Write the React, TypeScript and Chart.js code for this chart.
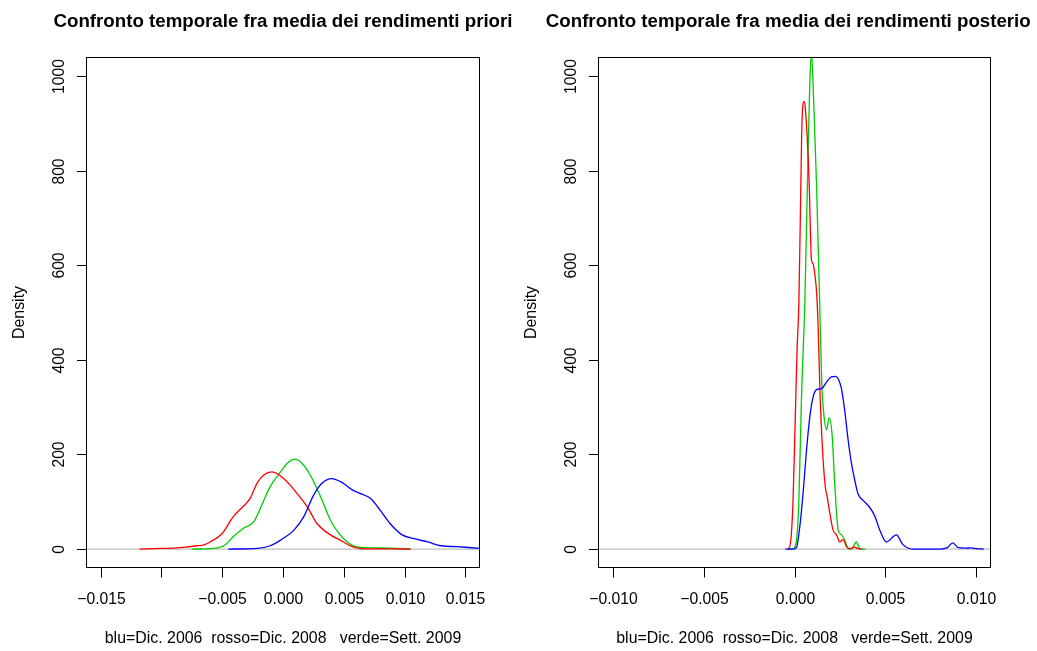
import React, { useEffect, useRef } from "react";
import { Chart, registerables } from "chart.js";

Chart.register(...registerables);

const FONT = '"Liberation Sans", Arial, Helvetica, sans-serif';

// ---------- Titles and labels ----------
const priorTitle = "Confronto temporale fra media dei rendimenti priori";
const posteriorTitle = "Confronto temporale fra media dei rendimenti posteriori";
const xAxisTitle = "blu=Dic. 2006  rosso=Dic. 2008   verde=Sett. 2009";
const yAxisTitle = "Density";

// ---------- Axis ticks ----------
const yTicks = [0, 200, 400, 600, 800, 1000];
const yTickLabels = ["0", "200", "400", "600", "800", "1000"];
const priorXTicks = [-0.015, -0.01, -0.005, 0, 0.005, 0.01, 0.015];
const priorXTickLabels = ["\u22120.015", "", "\u22120.005", "0.000", "0.005", "0.010", "0.015"];
const posteriorXTicks = [-0.01, -0.005, 0, 0.005, 0.01];
const posteriorXTickLabels = ["\u22120.010", "\u22120.005", "0.000", "0.005", "0.010"];

// ---------- Prior densities ----------
const priorBlueX = [-0.0045, -0.0021, -0.00105, -0.0002, 0.0009, 0.0017, 0.0025, 0.0032, 0.004, 0.0049, 0.0057, 0.0065, 0.0072, 0.008, 0.0088, 0.0098, 0.0108, 0.0119, 0.013, 0.0143, 0.0163, 0.017];
const priorBlueY = [0, 1.5, 7, 19, 40, 68, 113, 139, 149, 140, 125, 116, 107, 82, 54, 30, 22, 15, 7, 5, 1.5, 0.5];

const priorRedX = [-0.0118, -0.0101, -0.009, -0.008, -0.0071, -0.0065, -0.006, -0.005, -0.0041, -0.00325, -0.0027, -0.00214, -0.0016, -0.0009, 0.00005, 0.0013, 0.002, 0.0028, 0.0039, 0.0047, 0.0057, 0.0064, 0.0075, 0.009, 0.0105];
const priorRedY = [0, 1.5, 2, 4, 7, 9, 15, 33, 68, 91, 107, 139, 156, 163, 149, 113, 89, 54, 30, 19, 5, 1, 0.5, 0.3, 0];

const priorGreenX = [-0.0075, -0.0057, -0.0048, -0.0041, -0.00325, -0.0024, -0.0017, -0.00105, -0.0002, 0.00046, 0.00096, 0.00157, 0.00225, 0.0031, 0.0039, 0.0047, 0.0057, 0.0069, 0.0088, 0.0105];
const priorGreenY = [0, 1.5, 8, 26, 44, 58, 96, 132, 163, 184, 190, 181, 156, 110, 61, 30, 8, 3, 2, 0];

// ---------- Posterior densities ----------
const postBlueX = [-0.0005, -0.00008, 0.00011, 0.00029, 0.00047, 0.00066, 0.00084, 0.00102, 0.00121, 0.00148, 0.00176, 0.00203, 0.00225, 0.0024, 0.00258, 0.00276, 0.00295, 0.00313, 0.00331, 0.00349, 0.00377, 0.0041, 0.00441, 0.00469, 0.00505, 0.0056, 0.00595, 0.0065, 0.008, 0.0084, 0.0087, 0.009, 0.0094, 0.0097, 0.01, 0.0104];
const postBlueY = [0, 0, 3, 47, 117, 209, 279, 321, 337, 339, 353, 364, 365, 360, 339, 293, 230, 181, 146, 117, 103, 90, 70, 40, 15, 30, 10, 0, 0, 3, 13, 3, 2, 2.5, 1, 0];

const postRedX = [-0.0004, -0.00031, -0.00017, -0.00008, 0.00002, 0.00014, 0.00024, 0.00035, 0.00042, 0.00053, 0.0006, 0.0008, 0.00093, 0.00102, 0.00112, 0.00121, 0.0013, 0.0014, 0.00157, 0.0017, 0.0018, 0.00194, 0.00212, 0.00231, 0.00249, 0.00267, 0.00286, 0.00304, 0.00331, 0.00349, 0.0037];
const postRedY = [0, 1, 33, 103, 244, 420, 520, 772, 912, 946, 930, 780, 612, 603, 580, 545, 470, 330, 190, 130, 110, 76, 40, 30, 15, 20, 5, 1, 4, 1, 0];

const postGreenX = [-0.0003, -0.00008, 0.00011, 0.00024, 0.00038, 0.00057, 0.00075, 0.00084, 0.00093, 0.00102, 0.00121, 0.00139, 0.0015, 0.0016, 0.00176, 0.0019, 0.00207, 0.00221, 0.0024, 0.00258, 0.00276, 0.00295, 0.00313, 0.0034, 0.00359, 0.0039];
const postGreenY = [0, 0.5, 19, 103, 314, 525, 842, 983, 1050, 983, 772, 510, 350, 290, 252, 278, 240, 139, 40, 30, 19, 1, 0, 15, 1, 0];

const BLUE = "#0000FF";
const RED = "#FF0000";
const GREEN = "#00CD00";

function pts(xs: number[], ys: number[]) {
  return xs.map((x, i) => ({ x, y: ys[i] }));
}

const rFrame = {
  id: "rFrame",
  beforeDatasetsDraw(chart: any) {
    const { ctx, chartArea, scales } = chart;
    const y0 = scales.y.getPixelForValue(0);
    ctx.save();
    ctx.strokeStyle = "#BEBEBE";
    ctx.lineWidth = 1.2;
    ctx.beginPath();
    ctx.moveTo(chartArea.left, y0);
    ctx.lineTo(chartArea.right, y0);
    ctx.stroke();
    ctx.restore();
  },
  afterDraw(chart: any, _args: any, opts: any) {
    const { ctx, chartArea, scales } = chart;
    const { left, right, top, bottom } = chartArea;
    ctx.save();
    ctx.strokeStyle = "#000";
    ctx.lineWidth = 1;
    ctx.strokeRect(left + 0.5, top + 0.5, right - left - 1, bottom - top - 1);

    // x ticks
    ctx.fillStyle = "#000";
    ctx.font = `15.7px ${FONT}`;
    ctx.textAlign = "center";
    ctx.textBaseline = "alphabetic";
    opts.xTicks.forEach((v: number, i: number) => {
      const px = Math.round(scales.x.getPixelForValue(v)) + 0.5;
      ctx.beginPath();
      ctx.moveTo(px, bottom - 0.5);
      ctx.lineTo(px, bottom + 9.5);
      ctx.stroke();
      if (opts.xLabels[i]) ctx.fillText(opts.xLabels[i], px, 604);
    });

    // y ticks
    opts.yTicks.forEach((v: number, i: number) => {
      const py = Math.round(scales.y.getPixelForValue(v)) + 0.5;
      ctx.beginPath();
      ctx.moveTo(left - 9, py);
      ctx.lineTo(left + 0.5, py);
      ctx.stroke();
      ctx.save();
      ctx.translate(left - 22, py);
      ctx.rotate(-Math.PI / 2);
      ctx.fillText(opts.yLabels[i], 0, 0);
      ctx.restore();
    });

    const cx = (left + right) / 2;
    // x axis title
    ctx.font = `15.9px ${FONT}`;
    ctx.fillText(opts.xTitle, cx, 643);
    // y axis title
    ctx.save();
    ctx.translate(left - 62, (top + bottom) / 2);
    ctx.rotate(-Math.PI / 2);
    ctx.fillText(opts.yTitle, 0, 0);
    ctx.restore();

    // main title (clipped like the device edge)
    ctx.save();
    ctx.beginPath();
    ctx.rect(0, 0, opts.titleClipRight, 50);
    ctx.clip();
    ctx.font = `bold 18.7px ${FONT}`;
    ctx.fillText(opts.title, cx, 27);
    ctx.restore();
    ctx.restore();
  },
};

type PanelProps = {
  left: number;
  width: number;
  padLeft: number;
  padRight: number;
  xMin: number;
  xMax: number;
  title: string;
  titleClipRight: number;
  xTicks: number[];
  xLabels: string[];
  series: { x: number[]; y: number[]; color: string }[];
};

function Panel(p: PanelProps) {
  const ref = useRef<HTMLCanvasElement | null>(null);
  useEffect(() => {
    if (!ref.current) return;
    const chart = new Chart(ref.current, {
      type: "line",
      data: {
        datasets: p.series.map((s) => ({
          data: pts(s.x, s.y),
          borderColor: s.color,
          backgroundColor: s.color,
          borderWidth: 1.3,
          pointRadius: 0,
          fill: false,
          cubicInterpolationMode: "monotone" as const,
          clip: 0,
        })),
      },
      options: {
        responsive: false,
        devicePixelRatio: 1,
        animation: false,
        events: [],
        layout: { padding: { left: p.padLeft, right: p.padRight, top: 57, bottom: 83 } },
        scales: {
          x: { type: "linear", min: p.xMin, max: p.xMax, display: false },
          y: { type: "linear", min: -40, max: 1040, display: false },
        },
        plugins: {
          legend: { display: false },
          tooltip: { enabled: false },
          // @ts-ignore
          rFrame: {
            title: p.title,
            titleClipRight: p.titleClipRight,
            xTicks: p.xTicks,
            xLabels: p.xLabels,
            yTicks,
            yLabels: yTickLabels,
            xTitle: xAxisTitle,
            yTitle: yAxisTitle,
          },
        },
      },
      plugins: [rFrame as any],
    });
    return () => chart.destroy();
  }, []);
  return (
    <canvas
      ref={ref}
      width={p.width}
      height={651}
      style={{ position: "absolute", left: p.left, top: 0, width: p.width, height: 651 }}
    />
  );
}

export default function App() {
  return (
    <div style={{ position: "fixed", left: 0, top: 0, width: 1037, height: 651, background: "#fff", overflow: "hidden" }}>
      <Panel
        left={0}
        width={518}
        padLeft={86}
        padRight={38}
        xMin={-0.0162}
        xMax={0.0162}
        title={priorTitle}
        titleClipRight={518}
        xTicks={priorXTicks}
        xLabels={priorXTickLabels}
        series={[
          { x: priorBlueX, y: priorBlueY, color: BLUE },
          { x: priorRedX, y: priorRedY, color: RED },
          { x: priorGreenX, y: priorGreenY, color: GREEN },
        ]}
      />
      <Panel
        left={518}
        width={519}
        padLeft={80}
        padRight={46}
        xMin={-0.0108}
        xMax={0.0108}
        title={posteriorTitle}
        titleClipRight={513}
        xTicks={posteriorXTicks}
        xLabels={posteriorXTickLabels}
        series={[
          { x: postBlueX, y: postBlueY, color: BLUE },
          { x: postRedX, y: postRedY, color: RED },
          { x: postGreenX, y: postGreenY, color: GREEN },
        ]}
      />
    </div>
  );
}
